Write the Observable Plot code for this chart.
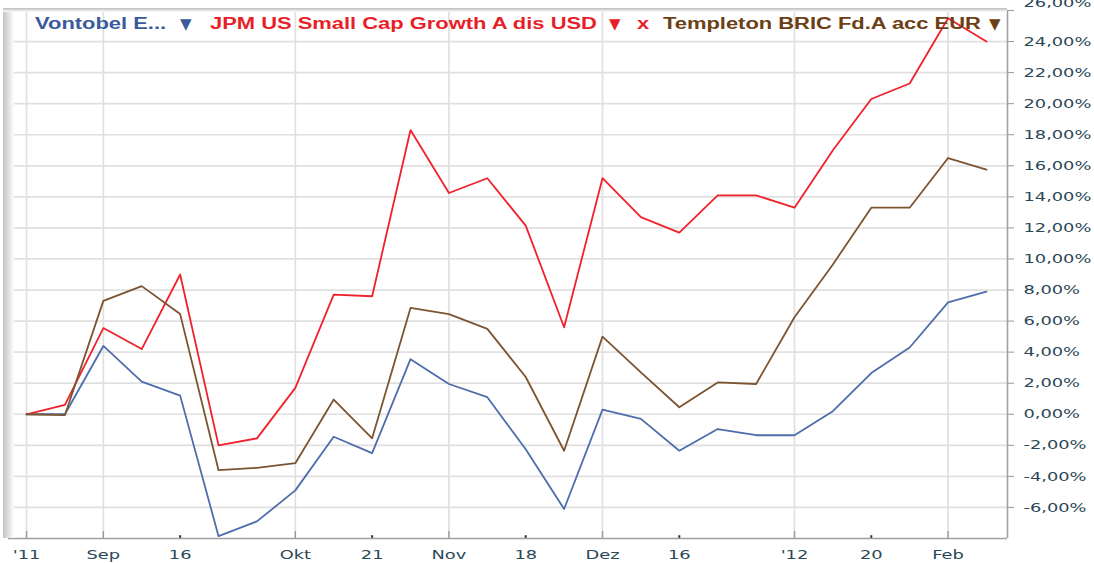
<!DOCTYPE html>
<html>
<head>
<meta charset="utf-8">
<script src="https://cdn.jsdelivr.net/npm/d3@7"></script>
<script src="https://cdn.jsdelivr.net/npm/@observablehq/plot@0.6"></script>
<style>
  html, body { margin: 0; padding: 0; background: #fff; }
  #wrap { position: relative; width: 1094px; height: 563px; overflow: hidden; }
  #leftshade { position: absolute; left: 3px; top: 9px; width: 11px; height: 529px;
    background: linear-gradient(to right, #c4c4c4, #e6e6e6 60%, #ffffff); }
  #topshade { position: absolute; left: 3px; top: 8px; width: 1004px; height: 4px;
    background: linear-gradient(to bottom, #bdbdbd, #e2e2e2 60%, #ffffff); }
  .lg { position: absolute; top: 16px; white-space: nowrap; font: bold 16px "Liberation Sans", Arial, sans-serif;
    line-height: 16px; transform: scaleX(1.37); transform-origin: 0 0; }
  .tri { position: absolute; top: 16px; font: 15px "DejaVu Sans", sans-serif; line-height: 16px; }
</style>
</head>
<body>
<div id="wrap">
  <div id="chart"></div>
  <div id="leftshade"></div>
  <div id="topshade"></div>
  <div id="legend"></div>
</div>
<script>
// ---- data ----
const dates = ["2011-08-19","2011-08-26","2011-09-02","2011-09-09","2011-09-16","2011-09-23","2011-09-30",
  "2011-10-07","2011-10-14","2011-10-21","2011-10-28","2011-11-04","2011-11-11","2011-11-18","2011-11-25",
  "2011-12-02","2011-12-09","2011-12-16","2011-12-23","2011-12-30","2012-01-06","2012-01-13","2012-01-20",
  "2012-01-27","2012-02-03","2012-02-10"];
const vontobel = [0, 0, 4.4, 2.1, 1.2, -7.85, -6.9, -4.9, -1.45, -2.5, 3.55, 1.95, 1.1, -2.25, -6.1,
  0.3, -0.3, -2.35, -0.95, -1.35, -1.35, 0.2, 2.65, 4.3, 7.2, 7.9];
const jpm = [0, 0.6, 5.55, 4.2, 9.0, -2.0, -1.55, 1.7, 7.7, 7.6, 18.3, 14.25, 15.2, 12.15, 5.6,
  15.2, 12.7, 11.7, 14.1, 14.1, 13.3, 17.0, 20.3, 21.3, 25.5, 24.0];
const templeton = [0, -0.05, 7.3, 8.25, 6.45, -3.6, -3.45, -3.15, 0.95, -1.55, 6.85, 6.45, 5.5, 2.4, -2.35,
  5.0, 2.7, 0.45, 2.05, 1.95, 6.25, 9.65, 13.3, 13.3, 16.5, 15.75];
const seriesNames = ["Vontobel E...", "JPM US Small Cap Growth A dis USD", "Templeton BRIC Fd.A acc EUR"];
const seriesColors = ["#4d6dab", "#f1212b", "#7b5431"];
const legendColors = ["#3a5a9c", "#e81f28", "#6b4015"];
const majorTickDates = ["2011-08-19","2011-09-02","2011-10-07","2011-11-04","2011-12-02","2012-01-06","2012-02-03"];
const majorTickLabels = ["'11","Sep","Okt","Nov","Dez","'12","Feb"];
const minorTickDates = ["2011-09-16","2011-10-21","2011-11-18","2011-12-16","2012-01-20"];
const minorTickLabels = ["16","21","18","16","20"];
const yTicks = [-6,-4,-2,0,2,4,6,8,10,12,14,16,18,20,22,24,26];

// ---- build ----
const parse = s => new Date(s + "T00:00:00Z");
const allSeries = [vontobel, jpm, templeton];
const rows = allSeries.flatMap((vals, k) => dates.map((d, i) => ({date: parse(d), value: vals[i], series: seriesNames[k]})));
const majors = majorTickDates.map(parse);
const minors = minorTickDates.map(parse);
const labelOf = new Map();
majors.forEach((d, i) => labelOf.set(+d, majorTickLabels[i]));
minors.forEach((d, i) => labelOf.set(+d, minorTickLabels[i]));
const fmtPct = v => v.toFixed(2).replace(".", ",") + "%";
const xDomain = [new Date(Date.UTC(2011, 7, 15, 17)), new Date(Date.UTC(2012, 1, 13, 20))];

const chart = Plot.plot({
  width: 1094, height: 563,
  marginLeft: 8, marginRight: 87, marginTop: 10, marginBottom: 25,
  style: {fontFamily: "'DejaVu Sans', sans-serif", fontSize: "13px", background: "transparent", overflow: "visible"},
  x: {type: "utc", domain: xDomain, label: null},
  y: {domain: [-8, 26], label: null},
  color: {domain: seriesNames, range: seriesColors},
  marks: [
    Plot.ruleY(yTicks.filter(v => v < 26), {y: d => d, stroke: "#e0e0e0", strokeWidth: 1.7}),
    Plot.ruleX(majors, {x: d => d, stroke: "#e0e0e0", strokeWidth: 1.7}),
    Plot.ruleX(majors, {x: d => d, y1: -8, y2: -7.55, stroke: "#9a9a9a", strokeWidth: 1.4}),
    Plot.ruleX(minors, {x: d => d, y1: -8, y2: -7.82, stroke: "#333", strokeWidth: 2}),
    Plot.ruleY([-8], {stroke: "#a0a0a0", strokeWidth: 1.6}),
    Plot.ruleX([xDomain[1]], {stroke: "#a0a0a0", strokeWidth: 1.6}),
    Plot.line(rows, {x: "date", y: "value", z: "series", stroke: "series", strokeWidth: 1.8}),
    Plot.axisX({ticks: [...majors, ...minors], tickFormat: d => labelOf.get(+d), tickSize: 0, tickPadding: 11,
      fill: "#2b4856", anchor: "bottom", label: null}),
    Plot.axisY({ticks: yTicks, anchor: "right", tickSize: 6, tickPadding: 10, stroke: "#9a9a9a",
      fill: "#2b4856", label: null, tickFormat: v => v === 26 ? "" : fmtPct(v)}),
    Plot.axisY({ticks: [26], anchor: "right", tickSize: 0, tickPadding: 16, dy: -8,
      fill: "#2b4856", label: null, tickFormat: fmtPct})
  ]
});

// stretch tick labels horizontally like the reference
chart.querySelectorAll('g[aria-label$="tick label"] text').forEach(t => {
  const tr = t.getAttribute("transform");
  if (tr) t.setAttribute("transform", tr + " scale(1.37,1)");
  else {
    const x = t.getAttribute("x") || 0, y = t.getAttribute("y") || 0;
    t.removeAttribute("x"); t.removeAttribute("y");
    t.setAttribute("transform", `translate(${x},${y}) scale(1.37,1)`);
  }
});
document.getElementById("chart").appendChild(chart);

// legend
const legend = document.getElementById("legend");
const items = [
  {text: seriesNames[0], left: 35, color: legendColors[0], cls: "lg"},
  {text: "▼", left: 180, color: legendColors[0], cls: "tri"},
  {text: seriesNames[1], left: 210, color: legendColors[1], cls: "lg"},
  {text: "▼", left: 609, color: legendColors[1], cls: "tri"},
  {text: "x", left: 637, color: legendColors[1], cls: "lg"},
  {text: seriesNames[2], left: 663, color: legendColors[2], cls: "lg"},
  {text: "▼", left: 989, color: legendColors[2], cls: "tri"}
];
items.forEach(it => {
  const s = document.createElement("div");
  s.className = it.cls;
  s.style.left = it.left + "px";
  s.style.color = it.color;
  s.textContent = it.text;
  legend.appendChild(s);
});
</script>
</body>
</html>
